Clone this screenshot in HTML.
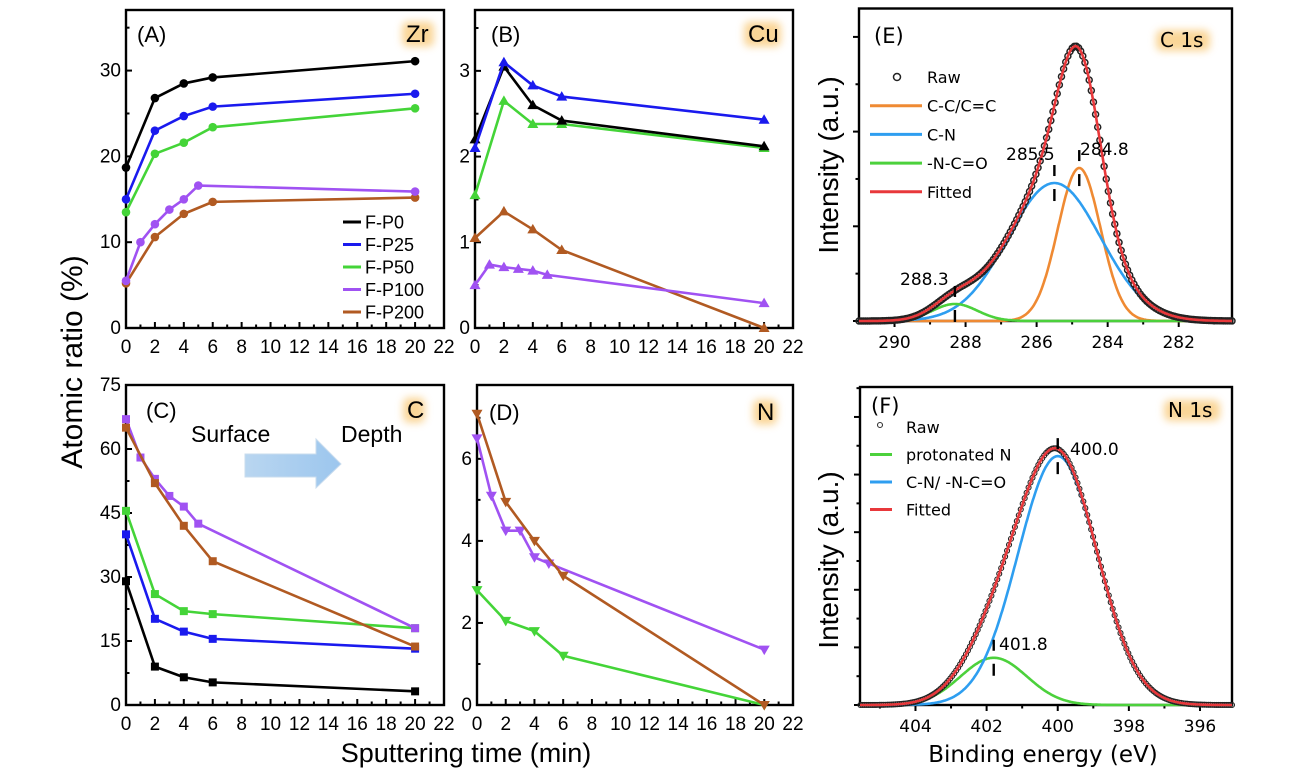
<!DOCTYPE html>
<html><head><meta charset="utf-8"><style>
html,body{margin:0;padding:0;background:#fff;}
svg{display:block;}
</style></head><body>
<svg id="fig" xmlns="http://www.w3.org/2000/svg" width="1307" height="782" viewBox="0 0 1307 782">
<defs>
<filter id="glow" x="-50%" y="-50%" width="200%" height="200%"><feGaussianBlur stdDeviation="4"/></filter>
<linearGradient id="arrowGrad" x1="0" y1="0" x2="1" y2="0"><stop offset="0" stop-color="#b9d6f0"/><stop offset="1" stop-color="#9cc6ee"/></linearGradient>
</defs>
<text x="0" y="0" transform="translate(82,362) rotate(-90)" text-anchor="middle" font-family="Liberation Sans, sans-serif" font-size="30">Atomic ratio (%)</text>
<text x="466" y="762" text-anchor="middle" font-family="Liberation Sans, sans-serif" font-size="27">Sputtering time (min)</text>
<text transform="translate(838,165) rotate(-90)" text-anchor="middle" font-family="Liberation Sans, sans-serif" font-size="28">Intensity (a.u.)</text>
<text transform="translate(838,560) rotate(-90)" text-anchor="middle" font-family="Liberation Sans, sans-serif" font-size="28">Intensity (a.u.)</text>
<text x="1043" y="762" text-anchor="middle" font-family="DejaVu Sans, sans-serif" font-size="23">Binding energy (eV)</text>
<g>
<polygon points="245,454 316,454 316,439 341,464 316,488 316,477 245,477" fill="url(#arrowGrad)" stroke="#c9dcee" stroke-width="1"/>
</g>
<text x="191" y="442" font-family="Liberation Sans, sans-serif" font-size="23">Surface</text>
<text x="341" y="442" font-family="Liberation Sans, sans-serif" font-size="23">Depth</text>
</svg>
<script>
// ---------- data ----------
const timeA = [0, 2, 4, 6, 20];
const timeFine = [0, 1, 2, 3, 4, 5, 20];
const seriesNames = ['F-P0', 'F-P25', 'F-P50', 'F-P100', 'F-P200'];
// Zr (A)
const zrP0 = [18.7, 26.8, 28.5, 29.2, 31.1];
const zrP25 = [15.0, 23.0, 24.7, 25.8, 27.3];
const zrP50 = [13.5, 20.3, 21.6, 23.4, 25.6];
const zrP100 = [5.5, 10.0, 12.1, 13.8, 15.0, 16.6, 15.9];
const zrP200 = [5.2, 10.6, 13.3, 14.7, 15.2];
// Cu (B)
const cuP0 = [2.2, 3.05, 2.6, 2.42, 2.12];
const cuP25 = [2.1, 3.1, 2.83, 2.7, 2.43];
const cuP50 = [1.55, 2.65, 2.38, 2.38, 2.1];
const cuP100 = [0.5, 0.74, 0.71, 0.69, 0.67, 0.62, 0.29];
const cuP200 = [1.05, 1.36, 1.15, 0.91, 0.0];
// C (C)
const cP0 = [29, 9, 6.5, 5.3, 3.2];
const cP25 = [40, 20.2, 17.2, 15.5, 13.2];
const cP50 = [45.5, 26, 22, 21.3, 18];
const cP100 = [67, 58, 53, 49, 46.5, 42.5, 18];
const cP200 = [65, 52, 42, 33.7, 13.7];
// N (D)
const nP50 = [2.8, 2.05, 1.8, 1.2, 0];
const nP100 = [6.5, 5.1, 4.25, 4.25, 3.6, 3.45, 1.35];
const nP200 = [7.1, 4.95, 4.0, 3.15, 0];
// XPS C 1s (E)
const c1sNames = ['C-C/C=C', 'C-N', '-N-C=O'];
const c1sCenters = [284.8, 285.5, 288.3];
const c1sHeights = [1.615, 1.457, 0.18];
const c1sSigmas = [0.6, 1.3, 0.63];
const c1sLabels = ['284.8', '285.5', '288.3'];
// XPS N 1s (F)
const n1sNames = ['protonated N', 'C-N/ -N-C=O'];
const n1sCenters = [401.8, 400.0];
const n1sHeights = [0.82, 4.32];
const n1sSigmas = [0.93, 1.12];
const n1sLabels = ['401.8', '400.0'];
const ticksTime = [0, 2, 4, 6, 8, 10, 12, 14, 16, 18, 20, 22];
const ticksZr = [0, 10, 20, 30];
const ticksCu = [0, 1, 2, 3];
const ticksC = [0, 15, 30, 45, 60, 75];
const ticksN = [0, 2, 4, 6];
const ticksC1s = [290, 288, 286, 284, 282];
const ticksN1s = [404, 402, 400, 398, 396];

// ---------- styles ----------
const COLORS = ['#000000', '#1a1aee', '#44d438', '#a052f2', '#b15a22'];
const svg = document.getElementById('fig');
const NS = 'http://www.w3.org/2000/svg';
function mk(tag, attrs, parent) {
  const e = document.createElementNS(NS, tag);
  for (const k in attrs) e.setAttribute(k, attrs[k]);
  (parent || svg).appendChild(e);
  return e;
}
function scaler(p) {
  p.sx = v => p.x0 + (v - p.xmin) / (p.xmax - p.xmin) * (p.x1 - p.x0);
  p.sy = v => p.y1 - (v - p.ymin) / (p.ymax - p.ymin) * (p.y1 - p.y0);
  return p;
}
function drawAxes(p, xt, yt, xMinorStep, yMinorStep, opts) {
  const g = mk('g', {});
  
  
  const box = mk('rect', {x: p.x0, y: p.y0, width: p.x1 - p.x0, height: p.y1 - p.y0, fill: 'none', stroke: '#000', 'stroke-width': 2.4}, g);
  
  
  const dir = opts.out ? 1 : -1;
  const lo = Math.min(p.xmin, p.xmax), hi = Math.max(p.xmin, p.xmax);
  for (let v = Math.ceil(lo / xMinorStep) * xMinorStep; v <= hi + 1e-9; v += xMinorStep) {
    const isMajor = xt.some(t => Math.abs(t - v) < 1e-6);
    const X = p.sx(v);
    const t = mk('line', {x1: X, x2: X, y1: p.y1, y2: p.y1 + dir * (isMajor ? 6 : 3.5), stroke: '#000', 'stroke-width': 2}, g);
    
    
  }
  xt.forEach(v => {
    const tl = mk('text', {x: p.sx(v), y: p.y1 + opts.xLabelDy, 'text-anchor': 'middle', 'font-family': opts.font, 'font-size': opts.fs}, g);
    
    
    tl.textContent = String(v);
  });
  for (let v = p.ymin; v <= p.ymax + 1e-9; v += yMinorStep) {
    const isMajor = yt.some(t => Math.abs(t - v) < 1e-6);
    const Y = p.sy(v);
    const t = mk('line', {x1: p.x0, x2: p.x0 - dir * (isMajor ? 6 : 3.5), y1: Y, y2: Y, stroke: '#000', 'stroke-width': 2}, g);
    
    
  }
  if (opts.yLabels) yt.forEach(v => {
    const tl = mk('text', {x: p.x0 - 5, y: p.sy(v) + 6, 'text-anchor': 'end', 'font-family': opts.font, 'font-size': opts.fs}, g);
    
    
    tl.textContent = String(v);
  });
}
function panelTag(p, txt, x, y, font, fs) {
  const t = mk('text', {x: x, y: y, 'font-family': font, 'font-size': fs});
  
  
  t.textContent = txt;
}
function glowLabel(p, txt, x, y, w, font, fs) {
  const r = mk('rect', {x: x - 4, y: y - fs * 0.85, width: w + 8, height: fs * 1.05, rx: 6, fill: '#f9cf86', filter: 'url(#glow)', opacity: 0.85});
  
  
  const t = mk('text', {x: x, y: y, 'font-family': font, 'font-size': fs});
  
  
  t.textContent = txt;
}
function marker(p, type, X, Y, color, g) {
  let m;
  if (type === 'circle') m = mk('circle', {cx: X, cy: Y, r: 4.3, fill: color}, g);
  else if (type === 'square') m = mk('rect', {x: X - 4, y: Y - 4, width: 8, height: 8, fill: color}, g);
  else if (type === 'up') m = mk('polygon', {points: `${X},${Y - 5.5} ${X - 5.5},${Y + 4} ${X + 5.5},${Y + 4}`, fill: color}, g);
  else m = mk('polygon', {points: `${X},${Y + 5.5} ${X - 5.5},${Y - 4} ${X + 5.5},${Y - 4}`, fill: color}, g);
  return m;
}
function series(p, xsArr, ysArr, idx, type) {
  const g = mk('g', {});
  
  
  const pts = xsArr.map((x, i) => p.sx(x) + ',' + p.sy(ysArr[i])).join(' ');
  const l = mk('polyline', {points: pts, fill: 'none', stroke: COLORS[idx], 'stroke-width': 2.6, 'stroke-linejoin': 'round'}, g);
  
  
  xsArr.forEach((x, i) => {
    const m = marker(p, type, p.sx(x), p.sy(ysArr[i]), COLORS[idx], g);
    
    
  });
}

const fontA = 'Liberation Sans, sans-serif';
const fontE = 'DejaVu Sans, sans-serif';
const optsT = {out: false, xLabelDy: 25, font: fontA, fs: 19, yLabels: true};

// ---------- Panel A ----------
const pA = scaler({name: 'panel-a', x0: 126, x1: 444, y0: 10, y1: 328, xmin: 0, xmax: 22, ymin: 0, ymax: 37.06});
drawAxes(pA, ticksTime, ticksZr, 1, 5, optsT);
series(pA, timeA, zrP200, 4, 'circle');
series(pA, timeFine, zrP100, 3, 'circle');
series(pA, timeA, zrP50, 2, 'circle');
series(pA, timeA, zrP25, 1, 'circle');
series(pA, timeA, zrP0, 0, 'circle');
panelTag(pA, '(A)', 137, 42, fontA, 22);
glowLabel(pA, 'Zr', 406, 42, 24, fontA, 24);
seriesNames.forEach((n, i) => {
  const yy = 222 + i * 22.5;
  const g = mk('g', {});
  
  
  const l = mk('line', {x1: 343, x2: 361, y1: yy, y2: yy, stroke: COLORS[i], 'stroke-width': 3}, g);
  
  
  const t = mk('text', {x: 365, y: yy + 6.5, 'font-family': fontA, 'font-size': 18}, g);
  
  
  t.textContent = n;
});

// ---------- Panel B ----------
const pB = scaler({name: 'panel-b', x0: 475, x1: 793, y0: 10, y1: 328, xmin: 0, xmax: 22, ymin: 0, ymax: 3.71});
drawAxes(pB, ticksTime, ticksCu, 1, 0.5, optsT);
series(pB, timeA, cuP200, 4, 'up');
series(pB, timeFine, cuP100, 3, 'up');
series(pB, timeA, cuP50, 2, 'up');
series(pB, timeA, cuP0, 0, 'up');
series(pB, timeA, cuP25, 1, 'up');
panelTag(pB, '(B)', 491, 42, fontA, 22);
glowLabel(pB, 'Cu', 748, 42, 29, fontA, 24);

// ---------- Panel C ----------
const pC = scaler({name: 'panel-c', x0: 126, x1: 444, y0: 385, y1: 705, xmin: 0, xmax: 22, ymin: 0, ymax: 75});
drawAxes(pC, ticksTime, ticksC, 1, 7.5, optsT);
series(pC, timeA, cP0, 0, 'square');
series(pC, timeA, cP25, 1, 'square');
series(pC, timeA, cP50, 2, 'square');
series(pC, timeFine, cP100, 3, 'square');
series(pC, timeA, cP200, 4, 'square');
panelTag(pC, '(C)', 146, 418, fontA, 22);
glowLabel(pC, 'C', 407, 418, 14, fontA, 24);

// ---------- Panel D ----------
const pD = scaler({name: 'panel-d', x0: 477, x1: 793, y0: 385, y1: 705, xmin: 0, xmax: 22, ymin: 0, ymax: 7.8});
drawAxes(pD, ticksTime, ticksN, 1, 1, optsT);
series(pD, timeA, nP50, 2, 'down');
series(pD, timeFine, nP100, 3, 'down');
series(pD, timeA, nP200, 4, 'down');
panelTag(pD, '(D)', 489, 420, fontA, 22);
glowLabel(pD, 'N', 757, 420, 16, fontA, 24);

// ---------- XPS helpers ----------
function gauss(x, c, h, s) { return h * Math.exp(-((x - c) * (x - c)) / (2 * s * s)); }
function xpsPanel(p, centers, heights, sigmas, names, colors, labels, rawStep, rawR, rawW) {
  const lo = Math.min(p.xmin, p.xmax), hi = Math.max(p.xmin, p.xmax);
  const fit = x => centers.reduce((a, c, i) => a + gauss(x, c, heights[i], sigmas[i]), 0);
  centers.forEach((c, i) => {
    let d = '';
    for (let x = lo; x <= hi + 1e-9; x += 0.02) {
      const v = gauss(x, c, heights[i], sigmas[i]);
      d += (d ? 'L' : 'M') + p.sx(x).toFixed(1) + ',' + p.sy(v).toFixed(1);
    }
    const pa = mk('path', {d: d, fill: 'none', stroke: colors[i], 'stroke-width': 2.6});
    
    
  });
  const rg = mk('g', {});
  
  
  for (let x = lo; x <= hi + 1e-9; x += rawStep) {
    const c = mk('circle', {cx: p.sx(x), cy: p.sy(fit(x)), r: rawR, fill: 'none', stroke: '#222', 'stroke-width': rawW}, rg);
    
    
  }
  let d = '';
  for (let x = lo; x <= hi + 1e-9; x += 0.02) {
    d += (d ? 'L' : 'M') + p.sx(x).toFixed(1) + ',' + p.sy(fit(x)).toFixed(1);
  }
  const fp = mk('path', {d: d, fill: 'none', stroke: '#e8383b', 'stroke-width': 2.6});
  
  
  centers.forEach((c, i) => {
    const X = p.sx(c), Y = p.sy(heights[i]);
    const b1 = mk('line', {x1: X, x2: X, y1: Y - 18, y2: Y - 7, stroke: '#000', 'stroke-width': 2.4});
    
    
    const b2 = mk('line', {x1: X, x2: X, y1: Y + 6, y2: Y + 18, stroke: '#000', 'stroke-width': 2.4});
    
    
  });
  return fit;
}
function peakLabel(p, txt, x, y) {
  const t = mk('text', {x: x, y: y, 'font-family': fontE, 'font-size': 17});
  
  
  t.textContent = txt;
}
const optsX = {out: true, xLabelDy: 27, font: fontE, fs: 17, yLabels: false};

// ---------- Panel E ----------
const pE = scaler({name: 'panel-e', x0: 859, x1: 1232, y0: 8.5, y1: 321, xmin: 291.0, xmax: 280.5, ymin: 0, ymax: 3.3});
drawAxes(pE, ticksC1s, [0, 1, 2, 3], 1, 0.5, optsX);
xpsPanel(pE, c1sCenters, c1sHeights, c1sSigmas, c1sNames, ['#ef8a33', '#2e9ef0', '#4cd13c'], c1sLabels, 0.06, 3, 1.5);
peakLabel(pE, c1sLabels[1], 1006, 160);
peakLabel(pE, c1sLabels[0], 1080, 155);
peakLabel(pE, c1sLabels[2], 900, 285);
panelTag(pE, '(E)', 874, 43, fontE, 21);
glowLabel(pE, 'C 1s', 1160, 47, 46, fontE, 20);
const legE = [['Raw', null], [c1sNames[0], '#ef8a33'], [c1sNames[1], '#2e9ef0'], [c1sNames[2], '#4cd13c'], ['Fitted', '#e8383b']];
legE.forEach((e, i) => {
  const yy = 77 + i * 28.7;
  const g = mk('g', {});
  
  
  let s;
  if (e[1]) s = mk('line', {x1: 870, x2: 922, y1: yy, y2: yy, stroke: e[1], 'stroke-width': 3}, g);
  else s = mk('circle', {cx: 897, cy: yy, r: 3.5, fill: 'none', stroke: '#222', 'stroke-width': 1.5}, g);
  
  
  const t = mk('text', {x: 927, y: yy + 6, 'font-family': fontE, 'font-size': 16}, g);
  
  
  t.textContent = e[0];
});

// ---------- Panel F ----------
const pF = scaler({name: 'panel-f', x0: 860, x1: 1232, y0: 387, y1: 705, xmin: 405.56, xmax: 395.1, ymin: 0, ymax: 5.52});
drawAxes(pF, ticksN1s, [0, 1, 2, 3, 4, 5], 1, 0.5, optsX);
xpsPanel(pF, n1sCenters, n1sHeights, n1sSigmas, n1sNames, ['#4cd13c', '#2e9ef0'], n1sLabels, 0.055, 2.5, 1.1);
peakLabel(pF, n1sLabels[0], 999, 650);
peakLabel(pF, n1sLabels[1], 1070, 455);
panelTag(pF, '(F)', 871, 413, fontE, 21);
glowLabel(pF, 'N 1s', 1168, 417, 48, fontE, 20);
const legF = [['Raw', null], [n1sNames[0], '#4cd13c'], [n1sNames[1], '#2e9ef0'], ['Fitted', '#e8383b']];
legF.forEach((e, i) => {
  const yy = 427 + i * 27.5;
  const g = mk('g', {});
  
  
  let s;
  if (e[1]) s = mk('line', {x1: 870, x2: 892, y1: yy, y2: yy, stroke: e[1], 'stroke-width': 3}, g);
  else s = mk('circle', {cx: 880, cy: yy - 2, r: 2.5, fill: 'none', stroke: '#333', 'stroke-width': 1.1}, g);
  
  
  const t = mk('text', {x: 906, y: yy + 6, 'font-family': fontE, 'font-size': 16}, g);
  
  
  t.textContent = e[0];
});
</script>
</body></html>
